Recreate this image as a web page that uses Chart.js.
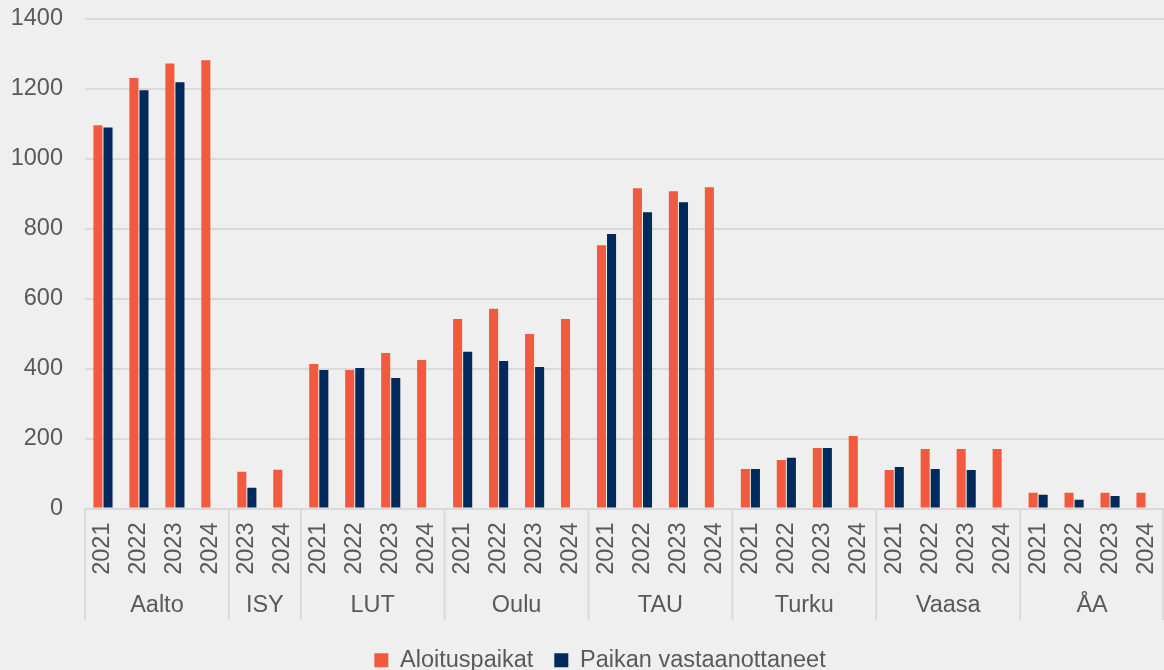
<!DOCTYPE html>
<html>
<head>
<meta charset="utf-8">
<script src="https://cdn.jsdelivr.net/npm/chart.js@4"></script>
<style>
  html, body { margin: 0; padding: 0; background: #efefef; }
  #wrap { width: 1164px; height: 670px; }
</style>
</head>
<body>
<div id="wrap"><canvas id="barChart"></canvas></div>
<script>
const years = ["2021", "2022", "2023", "2024", "2023", "2024",
  "2021", "2022", "2023", "2024", "2021", "2022", "2023", "2024",
  "2021", "2022", "2023", "2024", "2021", "2022", "2023", "2024",
  "2021", "2022", "2023", "2024", "2021", "2022", "2023", "2024"];
const groups = ["Aalto", "ISY", "LUT", "Oulu", "TAU", "Turku", "Vaasa", "ÅA"];
const groupSizes = [4, 2, 4, 4, 4, 4, 4, 4];

const aloituspaikat = [1096, 1231, 1273, 1282, 105, 111,
  413, 396, 445, 425, 542, 571, 499, 542,
  753, 916, 907, 919, 113, 139, 173, 207,
  110, 170, 170, 170, 45, 45, 45, 45];
const vastaanottaneet = [1090, 1196, 1219, null, 59, null,
  396, 402, 373, null, 448, 422, 405, null,
  785, 847, 876, null, 113, 145, 173, null,
  119, 113, 110, null, 39, 25, 36, null];

const yTicks = [0, 200, 400, 600, 800, 1000, 1200, 1400];

const textColor = "#595959";
const gridColor = "#d9d9d9";
const fontSize = 23.5;
Chart.defaults.font.family = "'Liberation Sans', Arial, sans-serif";

// group labels + separators under the year labels
const groupAxis = {
  id: "groupAxis",
  afterLayout(chart) {
    // push the legend down to the very bottom, a bit right
    chart.legend.top += 12;
    chart.legend.bottom += 12;
    chart.legend.left += 18;
    chart.legend.right += 18;
  },
  afterDraw(chart) {
    const ctx = chart.ctx;
    const x = chart.scales.x;
    const area = chart.chartArea;
    const bottom = 620;
    ctx.save();
    ctx.strokeStyle = gridColor;
    ctx.lineWidth = 2;
    ctx.fillStyle = textColor;
    ctx.font = fontSize + "px 'Liberation Sans', Arial, sans-serif";
    ctx.textAlign = "center";
    ctx.textBaseline = "middle";
    let start = 0;
    const edges = [area.left];
    groupSizes.forEach((n, g) => {
      const end = start + n - 1;
      const mid = (x.getPixelForValue(start) + x.getPixelForValue(end)) / 2;
      ctx.fillText(groups[g], mid, 606);
      if (end < years.length - 1) {
        edges.push((x.getPixelForValue(end) + x.getPixelForValue(end + 1)) / 2);
      }
      start += n;
    });
    edges.push(area.right - 1);
    edges.forEach((ex) => {
      ctx.beginPath();
      ctx.moveTo(ex, area.bottom);
      ctx.lineTo(ex, bottom);
      ctx.stroke();
    });
    ctx.restore();
  },
};

const dataBar = {
  labels: years,
  datasets: [
    {
      label: "Aloituspaikat",
      backgroundColor: "#f25a40",
      data: aloituspaikat,
      categoryPercentage: 0.56,
      barPercentage: 0.9,
    },
    {
      label: "Paikan vastaanottaneet",
      backgroundColor: "#002a5c",
      data: vastaanottaneet,
      categoryPercentage: 0.56,
      barPercentage: 0.9,
    },
  ],
};

const configBar = {
  type: "bar",
  data: dataBar,
  plugins: [groupAxis],
  options: {
    responsive: true,
    maintainAspectRatio: false,
    animation: false,
    layout: { padding: { top: 19, right: 0, left: 0, bottom: 0 } },
    scales: {
      x: {
        grid: { display: false, drawTicks: false },
        border: { color: gridColor, width: 2 },
        ticks: {
          color: textColor,
          minRotation: 90,
          maxRotation: 90,
          autoSkip: false,
          padding: 14,
          font: { size: fontSize },
        },
        afterFit(scale) {
          scale.height = 107;
          scale.paddingLeft = 0;
          scale.paddingRight = 0;
        },
      },
      y: {
        min: 0,
        max: 1400,
        afterBuildTicks(scale) {
          scale.ticks = yTicks.map((v) => ({ value: v }));
        },
        grid: { color: gridColor, lineWidth: 2, drawTicks: false },
        border: { display: false },
        ticks: {
          color: textColor,
          padding: 22,
          font: { size: fontSize },
          callback: (v) => String(v),
        },
        afterFit(scale) {
          scale.width = 85;
          scale.paddingTop = 0;
          scale.paddingBottom = 0;
        },
      },
    },
    plugins: {
      legend: {
        position: "bottom",
        labels: {
          color: textColor,
          boxWidth: 14,
          boxHeight: 14,
          padding: 21,
          font: { size: fontSize },
        },
      },
      tooltip: { enabled: false },
    },
  },
};

var myBarChart = new Chart(document.getElementById("barChart"), configBar);
</script>
</body>
</html>
